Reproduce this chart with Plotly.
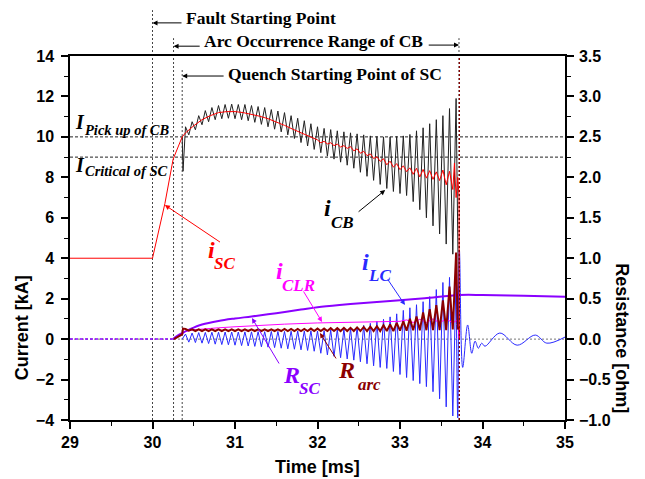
import plotly.graph_objects as go

# ---------------- data ----------------
# i_SC : smooth part (kA)
isc_t = [29.0, 30.0, 30.15, 30.25, 30.36, 30.40, 30.5, 30.6, 30.7, 30.8, 30.9, 31.0,
         31.1, 31.2, 31.3, 31.4, 31.5, 31.6, 31.7, 31.8, 31.9]
isc_v = [4.0, 4.0, 6.7, 8.9, 10.0, 10.2, 10.55, 10.85, 11.05, 11.2, 11.25, 11.25,
         11.2, 11.12, 11.02, 10.9, 10.75, 10.57, 10.38, 10.2, 10.0]

# half-cycle sample times of the oscillation (ms)
t_osc = [30.40, 30.44, 30.48, 30.52, 30.56, 30.60, 30.64, 30.68, 30.72, 30.76,
         30.80, 30.84, 30.88, 30.92, 30.96, 31.00, 31.04, 31.08, 31.12, 31.16,
         31.20, 31.24, 31.28, 31.32, 31.36, 31.40, 31.44, 31.48, 31.52, 31.56,
         31.60, 31.64, 31.68, 31.72, 31.76, 31.80, 31.84, 31.88, 31.92, 31.96,
         32.00, 32.04, 32.08, 32.12, 32.16, 32.20, 32.24, 32.28, 32.32, 32.36,
         32.40, 32.44, 32.48, 32.52, 32.56, 32.60, 32.64, 32.68, 32.72, 32.76,
         32.80, 32.84, 32.88, 32.92, 32.96, 33.00, 33.04, 33.08, 33.12, 33.16,
         33.20, 33.24, 33.28, 33.32, 33.36, 33.40, 33.44, 33.48, 33.52, 33.56,
         33.60, 33.64, 33.68]

# i_SC ripple part (kA), from 32.00 ms on
isc_rip_t = [32.00, 32.04, 32.08, 32.12, 32.16, 32.20, 32.24, 32.28, 32.32, 32.36,
             32.40, 32.44, 32.48, 32.52, 32.56, 32.60, 32.64, 32.68, 32.72, 32.76,
             32.80, 32.84, 32.88, 32.92, 32.96, 33.00, 33.04, 33.08, 33.12, 33.16,
             33.20, 33.24, 33.28, 33.32, 33.36, 33.40, 33.44, 33.48, 33.52, 33.56,
             33.60, 33.64, 33.66, 33.68, 33.70, 33.715, 33.72]
isc_rip_v = [9.85, 9.71, 9.78, 9.65, 9.71, 9.57, 9.64, 9.50, 9.57, 9.43,
             9.52, 9.31, 9.41, 9.19, 9.29, 9.07, 9.16, 8.93, 9.02, 8.79,
             8.92, 8.62, 8.80, 8.50, 8.68, 8.38, 8.57, 8.28, 8.47, 8.15,
             8.45, 8.02, 8.39, 7.96, 8.33, 7.90, 8.27, 7.84, 8.36, 7.63,
             8.30, 7.40, 8.70, 7.00, 8.00, 7.10, 0.0]

# i_CB (kA): start dip, then alternating peak / trough at t_osc
icb_start_t = [30.36, 30.37]
icb_start_v = [10.0, 8.3]
icb_v = [10.5, 10.1, 10.75, 10.35, 11.05, 10.6, 11.3, 10.75, 11.45, 10.85,
         11.55, 10.9, 11.6, 10.92, 11.62, 10.9, 11.6, 10.85, 11.6, 10.8,
         11.55, 10.72, 11.5, 10.62, 11.45, 10.5, 11.35, 10.38, 11.28, 10.25,
         11.2, 10.1, 11.05, 9.92, 10.92, 9.72, 10.8, 9.55, 10.65, 9.38,
         10.5, 9.22, 10.42, 9.05, 10.36, 8.9, 10.3, 8.75, 10.25, 8.6,
         10.2, 8.45, 10.15, 8.25, 10.1, 8.05, 10.05, 7.85, 10.02, 7.65,
         10.0, 7.45, 10.0, 7.3, 10.02, 7.2, 10.05, 7.1, 10.12, 6.8,
         10.3, 6.4, 10.45, 6.0, 10.65, 5.6, 10.85, 5.2, 11.05, 4.7,
         11.4, 4.2, 11.9]
icb_end_t = [33.705, 33.715]
icb_end_v = [4.2, 0.0]

# i_LC (kA): alternating peak / trough at t_osc
ilc_v = [0.25, -0.15, 0.3, -0.17, 0.32, -0.2, 0.33, -0.22, 0.34, -0.25,
         0.34, -0.27, 0.35, -0.28, 0.35, -0.3, 0.35, -0.32, 0.36, -0.34,
         0.36, -0.36, 0.37, -0.38, 0.37, -0.4, 0.38, -0.42, 0.38, -0.45,
         0.38, -0.48, 0.39, -0.5, 0.4, -0.53, 0.4, -0.56, 0.41, -0.6,
         0.4, -0.7, 0.42, -0.78, 0.45, -0.85, 0.48, -0.92, 0.5, -0.98,
         0.53, -1.04, 0.6, -1.12, 0.68, -1.22, 0.78, -1.32, 0.88, -1.4,
         0.98, -1.45, 1.1, -1.6, 1.25, -1.75, 1.42, -1.9, 1.55, -2.05,
         1.7, -2.2, 1.85, -2.35, 2.1, -2.6, 2.45, -2.95, 2.8, -3.35,
         3.05, -3.8, 3.1]
ilc_start_t = [30.36, 30.38]
ilc_start_v = [0.0, 0.1]
ilc_post_t = [33.70, 33.72, 33.76, 33.82, 33.87, 33.91, 33.95, 33.99, 34.03,
              34.21, 34.42, 34.64, 34.78, 35.0]
ilc_post_v = [-3.9, 4.4, -1.4, 0.7, -0.7, -0.1, -0.45, -0.2, -0.35,
              0.3, -0.3, 0.2, -0.2, 0.1]

# i_CLR (kA)
iclr_t = [30.36, 30.40, 30.5, 30.6, 30.8, 31.0, 31.3, 31.6, 32.0, 32.4, 32.8, 33.0,
          33.08, 33.16, 33.24, 33.32, 33.40, 33.48, 33.56, 33.64, 33.70, 33.715]
iclr_v = [0.25, 0.38, 0.46, 0.5, 0.56, 0.61, 0.68, 0.74, 0.8, 0.84, 0.87, 0.88,
          0.95, 0.82, 0.98, 0.82, 1.0, 0.8, 1.0, 0.8, 0.95, 0.0]

# R_SC (ohm)
rsc_pre_t = [29.0, 30.25]
rsc_pre_v = [0.0, 0.0]
rsc_t = [30.25, 30.3, 30.36, 30.45, 30.6, 30.8, 31.0, 31.2, 31.5, 31.8, 32.0, 32.3,
         32.6, 33.0, 33.3, 33.72, 34.0, 34.5, 35.0]
rsc_v = [0.0, 0.04, 0.075, 0.12, 0.18, 0.225, 0.255, 0.28, 0.32, 0.365, 0.395, 0.425,
         0.45, 0.48, 0.505, 0.545, 0.545, 0.535, 0.525]

# R_arc (ohm): start, then alternating peak / trough at t_osc
rarc_start_t = [30.26, 30.36, 30.37]
rarc_start_v = [0.0, 0.06, 0.13]
rarc_v = [0.125, 0.105, 0.12, 0.1, 0.12, 0.1, 0.12, 0.1, 0.12, 0.1,
          0.12, 0.1, 0.12, 0.1, 0.12, 0.1, 0.12, 0.1, 0.12, 0.1,
          0.12, 0.1, 0.12, 0.1, 0.12, 0.1, 0.12, 0.1, 0.12, 0.1,
          0.125, 0.1, 0.125, 0.1, 0.125, 0.1, 0.125, 0.1, 0.13, 0.1,
          0.13, 0.1, 0.13, 0.1, 0.135, 0.1, 0.135, 0.1, 0.14, 0.1,
          0.14, 0.1, 0.145, 0.1, 0.15, 0.1, 0.155, 0.1, 0.16, 0.1,
          0.17, 0.1, 0.18, 0.1, 0.2, 0.105, 0.22, 0.105, 0.25, 0.11,
          0.28, 0.11, 0.33, 0.11, 0.37, 0.11, 0.42, 0.11, 0.48, 0.11,
          0.65, 0.12, 1.07]
rarc_end_t = [33.70, 33.715]
rarc_end_v = [0.12, 0.15]
rarc_open_t = [33.72, 33.72]
rarc_open_v = [-1.0, 3.5]

# reference levels
t_fault, t_arc, t_quench, t_open = 30.0, 30.255, 30.36, 33.715
I_pickup, I_critical = 10.0, 9.0

# ---------------- figure ----------------
RED = '#ff0000'
BLK = '#222222'
BLUE = '#2a2aff'
MAG = '#ff00ff'
PUR = '#8a00ff'
DRED = '#8b0000'

fig = go.Figure()

def line(x, y, color, width=1.0, axis='y', shape='linear', dash=None):
    fig.add_trace(go.Scatter(x=x, y=y, mode='lines', yaxis=axis,
                             line=dict(color=color, width=width, shape=shape, dash=dash),
                             hoverinfo='skip'))

# i_CB
line(icb_start_t + t_osc + icb_end_t, icb_start_v + icb_v + icb_end_v, BLK, 1.0)
# i_LC
line(ilc_start_t + t_osc, ilc_start_v + ilc_v, BLUE, 1.0)
line([t_osc[-1]] + ilc_post_t, [ilc_v[-1]] + ilc_post_v, BLUE, 1.0, shape='spline')
# i_CLR
line(iclr_t, iclr_v, MAG, 1.0)
# R_SC
line(rsc_pre_t, rsc_pre_v, PUR, 1.5, axis='y2', dash='3px,2px')
line(rsc_t, rsc_v, PUR, 2.0, axis='y2', shape='spline')
# R_arc
line(rarc_start_t + t_osc + rarc_end_t, rarc_start_v + rarc_v + rarc_end_v, DRED, 2.0, axis='y2')
line(rarc_open_t, rarc_open_v, DRED, 1.2, axis='y2', dash='2px,2px')
# i_SC
line(isc_t + isc_rip_t, isc_v + isc_rip_v, RED, 1.0)

# ---------------- reference lines ----------------
shapes = []
for xv, top in [(t_fault, 1.126), (t_arc, 1.049), (t_quench, 0.962), (t_open, 1.049)]:
    shapes.append(dict(type='line', xref='x', yref='paper', x0=xv, x1=xv, y0=0, y1=top,
                       line=dict(color='#444', width=1, dash='2px,2px'), layer='below'))
for yv in [I_pickup, I_critical]:
    shapes.append(dict(type='line', xref='paper', yref='y', x0=0, x1=1, y0=yv, y1=yv,
                       line=dict(color='#222', width=1, dash='3px,2px'), layer='below'))
shapes.append(dict(type='line', xref='paper', yref='y', x0=0, x1=1, y0=0, y1=0,
                   line=dict(color='#777', width=1, dash='2px,2px'), layer='below'))

SERIF = 'Liberation Serif, Times New Roman, serif'
SANS = 'Liberation Sans, Arial, sans-serif'
ann = []

def txt(x, y, s, size, color='black', xref='x', yref='y', italic=True, xanchor='left'):
    ann.append(dict(x=x, y=y, xref=xref, yref=yref, text=s, showarrow=False,
                    xanchor=xanchor, yanchor='middle', borderpad=0,
                    font=dict(family=SERIF, size=size, color=color, weight='bold',
                              style='italic' if italic else 'normal')))

def arrow(hx, hy, tx, ty, color):
    ann.append(dict(x=hx, y=hy, ax=tx, ay=ty, xref='x', yref='y', axref='x',
                    ayref='y', text='', showarrow=True, arrowhead=2, arrowsize=1,
                    arrowwidth=1, arrowcolor=color, standoff=0, startstandoff=0))

def harrow(hx, hy, tx):
    # horizontal arrow above/inside the frame, y in paper units
    ann.append(dict(x=hx, y=hy, ax=tx, ay=0, xref='x', yref='paper', axref='x',
                    ayref='pixel', text='', showarrow=True, arrowhead=2, arrowsize=1,
                    arrowwidth=1, arrowcolor='black', standoff=0, startstandoff=0))

# top texts
txt(30.394, 1.105, 'Fault Starting Point', 17.5, yref='paper', italic=False)
txt(30.612, 1.041, 'Arc Occurrence Range of CB', 17.5, yref='paper', italic=False)
txt(30.903, 0.951, 'Quench Starting Point of SC', 17.5, yref='paper', italic=False)
harrow(t_fault, 1.091, 30.37)
harrow(t_arc, 1.027, 30.59)
harrow(t_open, 1.030, 33.33)
harrow(t_quench, 0.945, 30.88)

# level labels
txt(29.045, 10.76, 'I', 20)
txt(29.175, 10.32, 'Pick up of CB', 14.5)
txt(29.045, 8.61, 'I', 20)
txt(29.175, 8.32, 'Critical of SC', 14.5)

# curve labels
txt(32.067, 6.48, 'i', 24)
txt(32.152, 5.79, 'CB', 17)
txt(30.660, 4.41, 'i', 24, RED)
txt(30.733, 3.72, 'SC', 17, RED)
txt(31.485, 3.37, 'i', 24, MAG)
txt(31.558, 2.63, 'CLR', 17, MAG)
txt(32.527, 3.81, 'i', 24, BLUE)
txt(32.600, 3.17, 'LC', 17, BLUE)
txt(31.570, -1.78, 'R', 24, PUR)
txt(31.764, -2.42, 'SC', 17, PUR)
txt(32.236, -1.53, 'R', 24, DRED)
txt(32.479, -2.22, 'arc', 17, DRED)

arrow(30.15, 6.63, 30.836, 4.75, RED)
arrow(32.82, 7.37, 32.48, 6.24, 'black')
arrow(32.055, 0.85, 31.82, 2.43, MAG)
arrow(33.06, 1.69, 32.84, 3.02, BLUE)
arrow(31.206, 1.04, 31.545, -1.28, PUR)
arrow(32.03, 0.30, 32.236, -1.03, DRED)

# axis titles
def title(x, y, s, angle):
    ann.append(dict(x=x, y=y, xref='paper', yref='paper', text=s, showarrow=False,
                    textangle=angle, xanchor='center', yanchor='middle',
                    font=dict(family=SANS, size=18, color='black', weight='bold')))

title(-0.097, 0.255, 'Current [kA]', -90)
title(1.115, 0.225, 'Resistance [ohm]', 90)
title(0.499, -0.129, 'Time [ms]', 0)

tickfont = dict(family=SANS, size=16, color='black', weight='bold')
axis_common = dict(ticks='outside', ticklen=7, tickwidth=1.5, tickcolor='black',
                   showline=True, linecolor='black', linewidth=1.5, showgrid=False,
                   zeroline=False, tickfont=tickfont)

# page body has an 8 px margin: the figure is sized so the frame lands at
# x 70..565, y 56..420 of the 645x479 window
fig.update_layout(
    width=637, height=471,
    margin=dict(l=62, r=80, t=48, b=59),
    paper_bgcolor='white', plot_bgcolor='white', showlegend=False,
    xaxis=dict(range=[29, 35], tick0=29, dtick=1, mirror=True,
               minor=dict(ticks='outside', ticklen=4, dtick=0.5, tickcolor='black', tickwidth=1.2),
               **axis_common),
    yaxis=dict(range=[-4, 14], tick0=-4, dtick=2, ticklabelstandoff=4,
               minor=dict(ticks='outside', ticklen=4, dtick=1, tickcolor='black', tickwidth=1.2),
               **axis_common),
    yaxis2=dict(range=[-1, 3.5], tick0=-1, dtick=0.5, tickformat='.1f', overlaying='y',
                side='right', ticklabelstandoff=2,
                minor=dict(ticks='outside', ticklen=4, dtick=0.25, tickcolor='black', tickwidth=1.2),
                **axis_common),
    shapes=shapes,
    annotations=ann,
)

fig.write_html('out.html')
